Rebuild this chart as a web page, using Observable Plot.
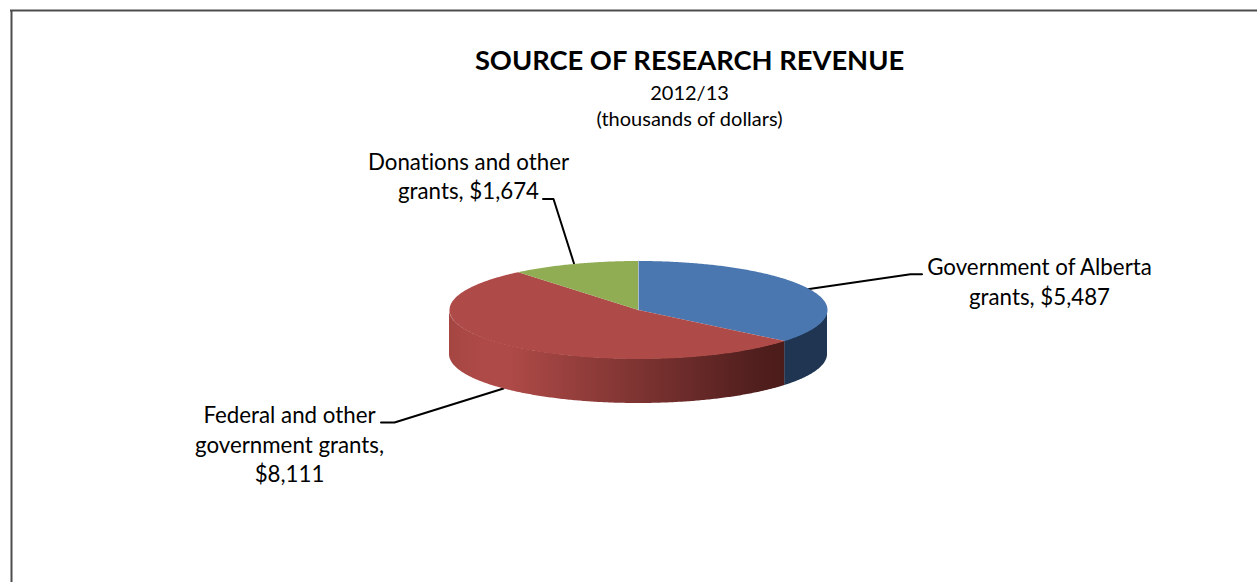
<!DOCTYPE html>
<html>
<head>
<meta charset="utf-8">
<script src="https://cdn.jsdelivr.net/npm/d3@7"></script>
<script src="https://cdn.jsdelivr.net/npm/@observablehq/plot@0.6"></script>
<style>
  html, body { margin: 0; padding: 0; background: #fff; overflow: hidden; }
  svg { display: block; }
  svg text { font-variant-ligatures: none; }
</style>
</head>
<body>
<div id="chart"></div>
<script>
// Research revenue by source, 2012/13, thousands of dollars
const sources = ["Government of Alberta grants", "Federal and other government grants", "Donations and other grants"];
const revenue = [5487, 8111, 1674];
const topColors = ["#4a77af", "#ae4a47", "#91ad54"];
const labelTexts = ["Government of Alberta\ngrants, $5,487", "Federal and other\ngovernment grants,\n$8,111", "Donations and other\ngrants, $1,674"];

const W = 1257, H = 582;
const font = "Lato, Carlito, sans-serif";

// Tilted-disc layout
const cx = 638, cy = 309.5, rx = 189, ry = 49, depth = 44.5;
const rim = (a) => ({x: cx + rx * Math.sin(a), y: cy - ry * Math.cos(a)});

// Slice angles run clockwise from twelve o'clock, in source order
const arcs = d3.pie().sort(null)(revenue);

function arcPoints(a0, a1) {
  const n = Math.max(2, Math.ceil((a1 - a0) / 0.01));
  return d3.range(n + 1).map((i) => rim(a0 + (a1 - a0) * i / n));
}

const wedges = arcs.map((d, i) => ({
  key: sources[i],
  color: topColors[i],
  points: [{x: cx, y: cy}, ...arcPoints(d.startAngle, d.endAngle)]
}));

// The wall shows only for the front half of the disc
const wall = (a0, a1) => arcPoints(Math.max(a0, Math.PI / 2), Math.min(a1, 3 * Math.PI / 2))
  .map((p) => ({x: p.x, y1: p.y, y2: p.y + depth}));

const gradients = () => {
  const g = d3.create("svg:g");
  g.html(`<defs>
    <linearGradient id="redWall" x1="1" x2="0" y1="0" y2="0">
      <stop offset="0" stop-color="#4c1c1b"/>
      <stop offset="0.07" stop-color="#4f1e1d"/>
      <stop offset="0.82" stop-color="#ae4a47"/>
      <stop offset="0.9" stop-color="#ae4a47"/>
      <stop offset="1" stop-color="#a54643"/>
    </linearGradient>
  </defs>`);
  return g.node();
};

// Leader lines run from the disc edge to the label
const leaders = [
  [[807, 288.7], [910, 273.7], [921.5, 273.7]],
  [[503, 388], [394, 422], [380.5, 422]],
  [[573.5, 263], [553, 198.5], [542.5, 198.5]]
];

const labelStyle = {text: (d) => d, fontSize: 22.3, lineHeight: 1.32, fontFamily: font, fill: "#000"};

const plot = Plot.plot({
  width: W,
  height: H,
  margin: 0,
  x: {domain: [0, W], range: [0, W], axis: null},
  y: {domain: [0, H], range: [0, H], axis: null},
  marks: [
    gradients,
    // Frame of the chart area
    Plot.ruleY([10], {x1: 10, x2: W, stroke: "#4d4d4d", strokeWidth: 2}),
    Plot.ruleX([11], {y1: 10, y2: H, stroke: "#4d4d4d", strokeWidth: 2}),
    // Leader lines
    ...leaders.map((pts) => Plot.line(pts, {x: (d) => d[0], y: (d) => d[1], stroke: "#000", strokeWidth: 2, curve: "linear"})),
    // Side walls
    Plot.areaY(wall(arcs[0].startAngle, arcs[0].endAngle), {x: "x", y1: "y1", y2: "y2", fill: "#1f3552", curve: "linear"}),
    Plot.areaY(wall(arcs[1].startAngle, arcs[1].endAngle), {x: "x", y1: "y1", y2: "y2", fill: "url(#redWall)", curve: "linear"}),
    // Top faces
    ...wedges.map((w) => Plot.line(w.points, {x: "x", y: "y", fill: w.color, stroke: "none", curve: "linear"})),
    // Pale seam where the first and last slices meet
    Plot.line([{x: cx, y: cy}, rim(0)], {x: "x", y: "y", stroke: "#a9bcd0", strokeWidth: 1, curve: "linear"}),
    // Titles
    Plot.text(["SOURCE OF RESEARCH REVENUE"], {x: 689, y: 61, text: (d) => d, fontSize: 27.3, fontWeight: 700, fontFamily: font, fill: "#000"}),
    Plot.text(["2012/13\n(thousands of dollars)"], {x: 689, y: 104, text: (d) => d, fontSize: 20, lineHeight: 1.32, fontFamily: font, fill: "#000"}),
    // Slice labels
    Plot.text([labelTexts[0]], {x: 1039, y: 280, ...labelStyle}),
    Plot.text([labelTexts[1]], {x: 289, y: 443, ...labelStyle}),
    Plot.text([labelTexts[2]], {x: 468, y: 174.5, ...labelStyle})
  ]
});
document.getElementById("chart").append(plot);
</script>
</body>
</html>
